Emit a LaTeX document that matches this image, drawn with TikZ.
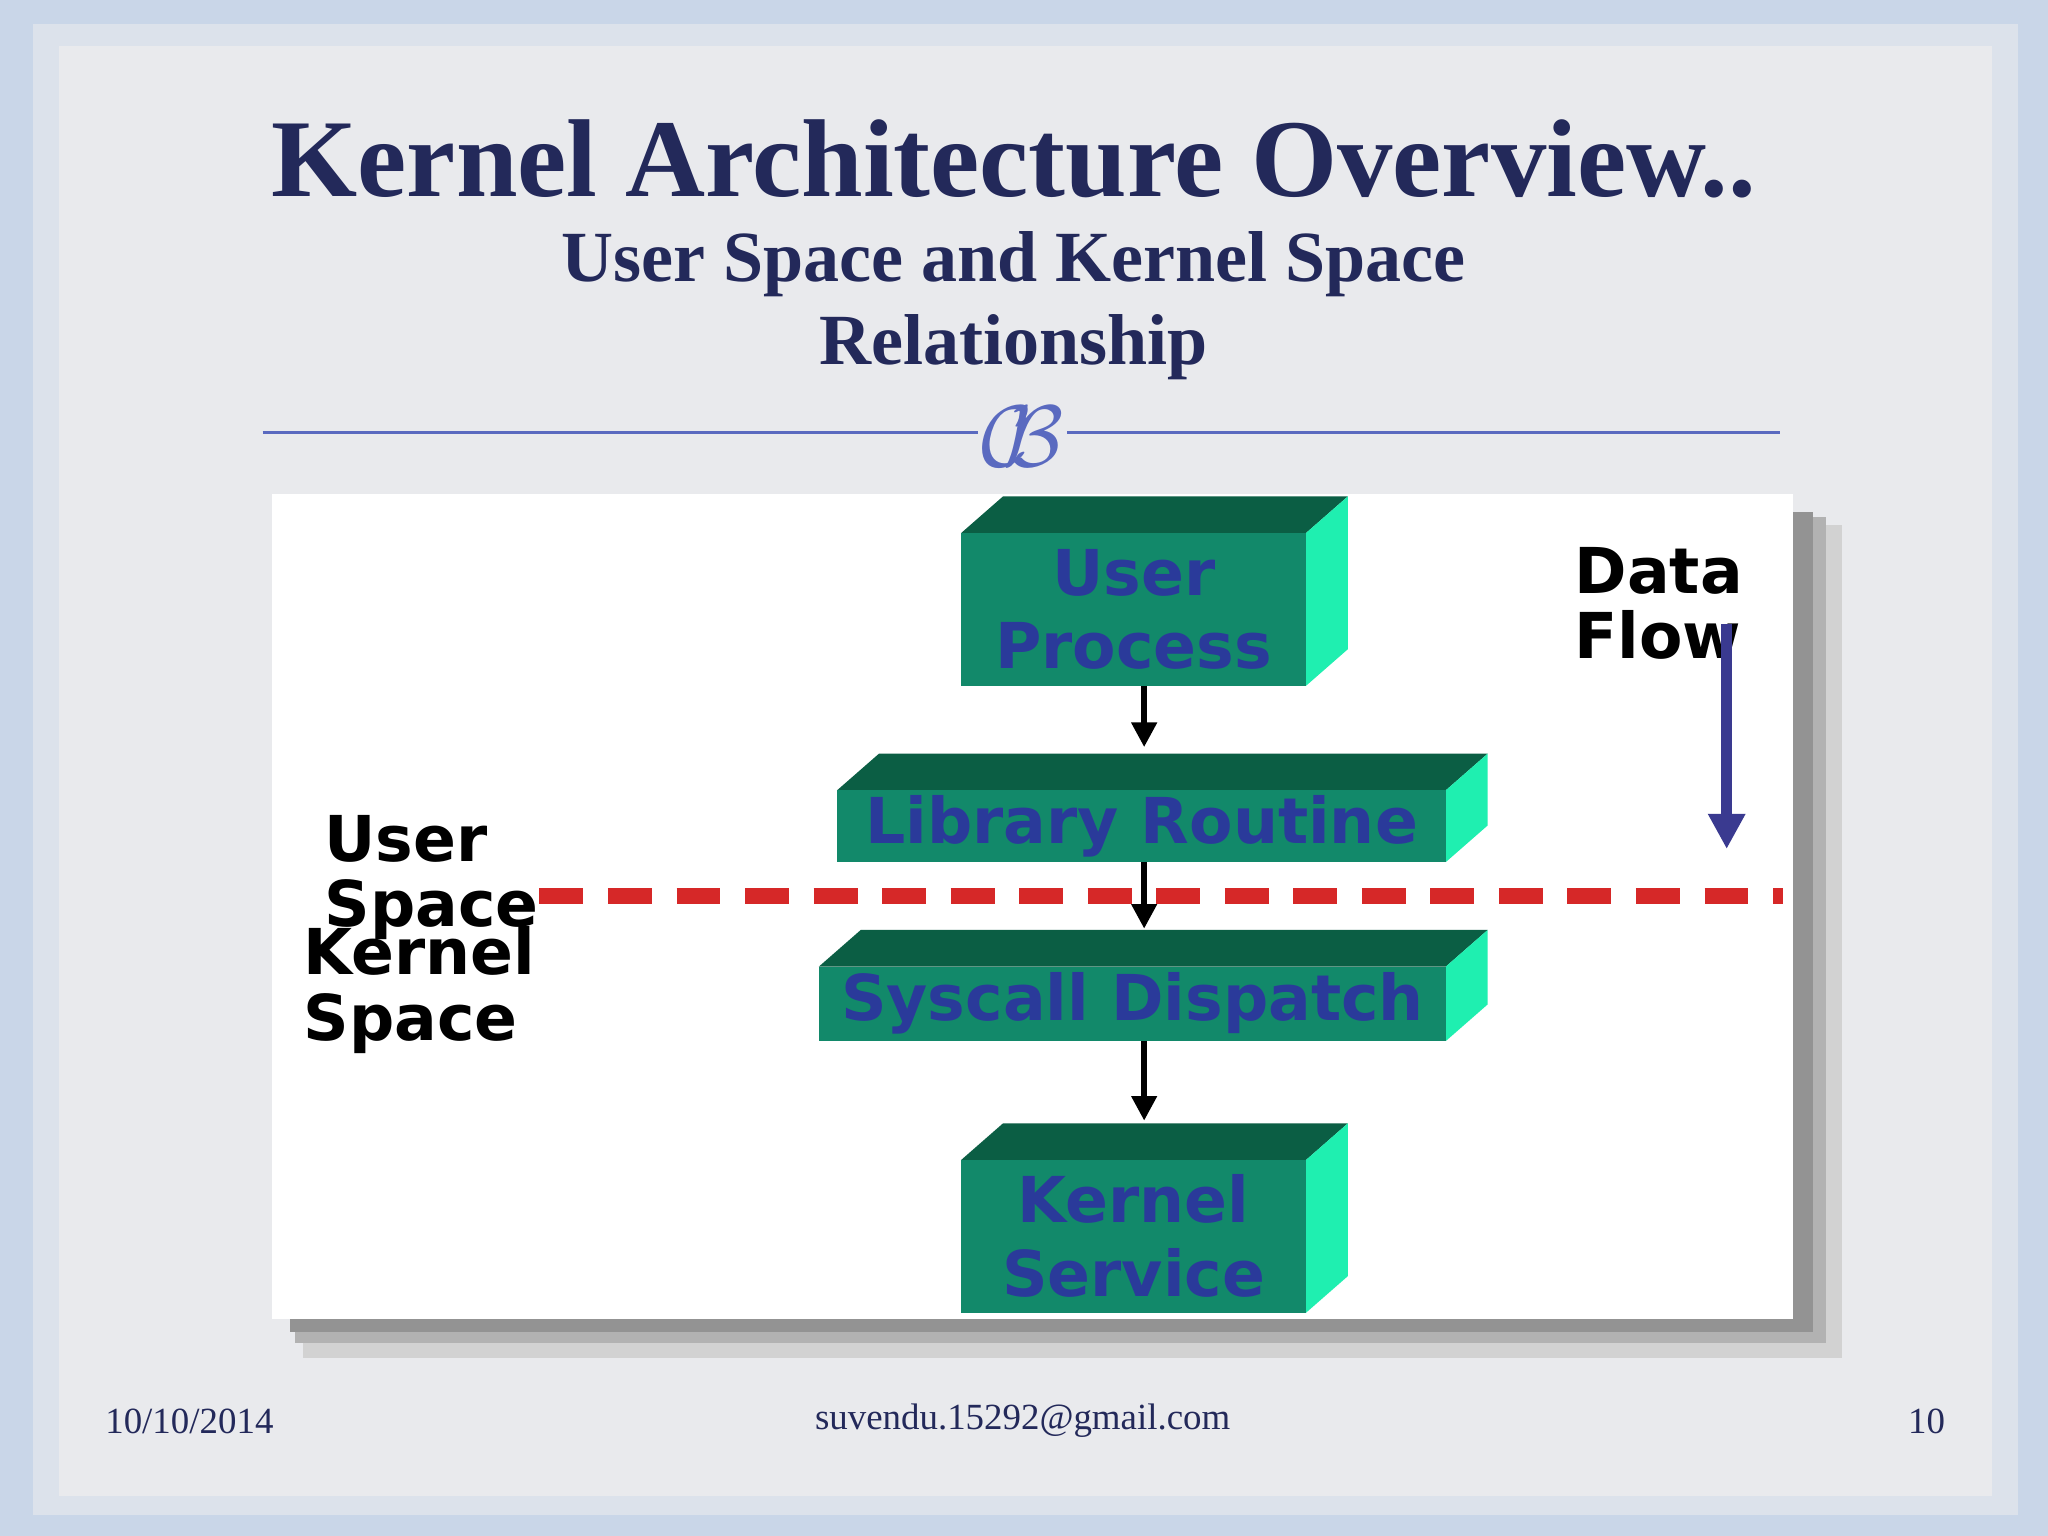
\documentclass[tikz,border=0pt]{standalone}
\usepackage{fontspec}
\setmainfont{Liberation Serif}
\newfontfamily\dejav{DejaVu Sans}
\usetikzlibrary{arrows.meta}
\definecolor{navy}{HTML}{23295A}
\definecolor{bfront}{HTML}{12896A}
\definecolor{btop}{HTML}{0B5E44}
\definecolor{bside}{HTML}{1FEFB0}
\definecolor{btext}{HTML}{2A3A9A}
\definecolor{rline}{HTML}{5A6AC0}
\definecolor{dred}{HTML}{D62828}
\definecolor{dflow}{HTML}{3A3A90}
\definecolor{outerbg}{HTML}{C9D6E8}
\definecolor{innerbg}{HTML}{E9EAED}
\tikzset{
 lbl/.style={font=\dejav\fontsize{18}{18.5}\selectfont\bfseries, align=left, anchor=west, inner sep=0},
 btxt/.style={font=\dejav\fontsize{18}{21}\selectfont\bfseries, text=btext, align=center, inner sep=0},
 arr/.style={-{Triangle[length=7pt,width=7pt]}, line width=1.6pt},
 foot/.style={font=\fontsize{10.5}{12}\selectfont, text=navy},
}
\newcommand{\boxthree}[6]{% x1 y1 x2 y2 name text
 \fill[btop] (#1,#2) -- (#1+32,#2-28) -- (#3+32,#2-28) -- (#3,#2) -- cycle;
 \fill[bside] (#3,#2) -- (#3+32,#2-28) -- (#3+32,#4-28) -- (#3,#4) -- cycle;
 \fill[bfront] (#1,#2) rectangle (#3,#4);
 \node[btxt] (#5) at ({(#1+#3)/2},{(#2+#4)/2}) {#6};
}
\begin{document}
\begin{tikzpicture}[x=0.01306cm,y=-0.01306cm]
\useasboundingbox (0,0) rectangle (1568,1176);
\fill[outerbg] (0,0) rectangle (1568,1176);
\fill[innerbg!60!outerbg] (25,18) rectangle (1545,1160);
\fill[innerbg] (45,35) rectangle (1525,1145);
\node[font=\fontsize{31.5}{36}\selectfont\bfseries, text=navy] (title) at (776,122) {Kernel Architecture Overview..};
\node[font=\fontsize{20.5}{23.5}\selectfont\bfseries, text=navy, align=center] (sub) at (776,234) {User Space and Kernel Space\\Relationship};
\draw[rline, line width=1pt] (201,331) coordinate (l1) -- (1363,331) coordinate (l2);
\node[fill=innerbg, inner sep=1pt, text=rline, font=\fontsize{27}{27}\selectfont\itshape] (orn) at (783,334) {$\mathcal{C}\!\!\mathcal{B}$};
% picture frame shadow
\fill[gray!35] (232,402) rectangle (1410,1040);
\fill[gray!60] (226,396) rectangle (1398,1028);
\fill[gray!85] (222,392) rectangle (1388,1020);
\fill[white] (208,378) rectangle (1373,1010);
% boxes
\boxthree{736}{408}{1000}{525}{up}{User\\Process}
\boxthree{641}{605}{1107}{660}{lr}{Library Routine}
\boxthree{627}{740}{1107}{797}{sd}{Syscall Dispatch}
\boxthree{736}{888}{1000}{1005}{ks}{Kernel\\Service}
\draw[arr] (876,525) -- (876,572);
\draw[arr] (876,660) -- (876,711);
\draw[arr] (876,797) -- (876,858);
\draw[dred, line width=4.5pt, dash pattern=on 12.5pt off 7pt] (413,686) coordinate (d1) -- (1365,686) coordinate (d2);
\node[lbl] (us) at (248,672) {User\\ Space};
\node[lbl] (ksl) at (232,758) {Kernel\\Space};
\node[lbl] (df) at (1205,462) {Data\\Flow};
\draw[dflow, line width=3pt, -{Triangle[length=10pt,width=10pt]}] (1322,478) coordinate (f1) -- (1322,650) coordinate (f2);
% footer
\node[foot] (date) at (145,1088) {10/10/2014};
\node[foot] (mail) at (783,1088) {suvendu.15292@gmail.com};
\node[foot] (pg) at (1475,1088) {10};
\end{tikzpicture}
\end{document}
